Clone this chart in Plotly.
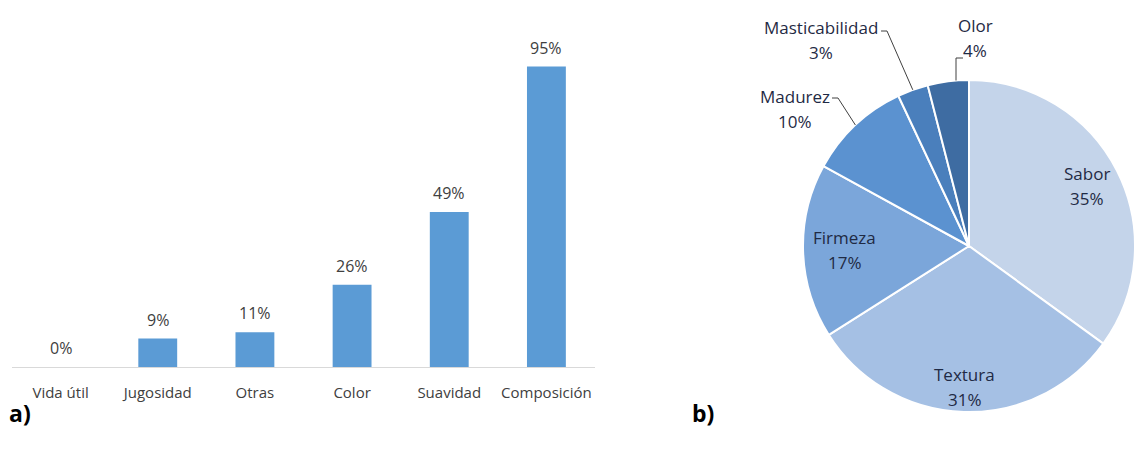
import math
import plotly.graph_objects as go

# Panel a) – attributes mentioned (%)
bar_categories = ["Vida útil", "Jugosidad", "Otras", "Color", "Suavidad", "Composición"]
bar_values = [0, 9, 11, 26, 49, 95]

# Panel b) – attribute shares (%)
pie_labels = ["Sabor", "Textura", "Firmeza", "Madurez", "Masticabilidad", "Olor"]
pie_values = [35, 31, 17, 10, 3, 4]
pie_colors = ["#c4d4ea", "#a5c0e4", "#7ba6da", "#5b92d0", "#4a7fbc", "#3e6ca2"]

W, H = 1135, 456
FONT = "Open Sans"
TEXT_GREY = "#404040"
PIE_TEXT = "#1f2a44"

# pie geometry (pixels)
cx, cy, r = 969, 246, 166
# radial position of the labels drawn inside the three large slices
inside_label_radius = [0.80, 0.85, 0.75]
LINE_GAP = 25  # distance between the name line and the percentage line


def px(x):
    return x / W


def py(y):
    return 1 - y / H


fig = go.Figure()

fig.add_trace(go.Bar(
    x=bar_categories, y=bar_values,
    marker=dict(color="#5b9bd5", line=dict(width=0)),
    hoverinfo="skip", showlegend=False,
))

# value labels above each bar
for c, v in zip(bar_categories, bar_values):
    fig.add_annotation(x=c, y=v, xref="x", yref="y", text=f"{v}%",
                       showarrow=False, xanchor="center", yanchor="bottom", yshift=6,
                       font=dict(family=FONT, size=16, color=TEXT_GREY))

fig.add_trace(go.Pie(
    labels=pie_labels, values=pie_values, sort=False, direction="clockwise",
    rotation=0, textinfo="none", hoverinfo="skip", showlegend=False,
    marker=dict(colors=pie_colors, line=dict(color="white", width=2)),
    domain=dict(x=[px(cx - r), px(cx + r)], y=[py(cy + r), py(cy - r)]),
))

# slice mid-angles (degrees clockwise from 12 o'clock)
total = sum(pie_values)
mids = []
acc = 0
for v in pie_values:
    mids.append((acc + v / 2) / total * 360)
    acc += v


def polar(angle_deg, radius):
    a = math.radians(angle_deg)
    return cx + radius * math.sin(a), cy - radius * math.cos(a)


pie_font = dict(family=FONT, size=17, color=PIE_TEXT)


def pie_label(x, y, name, value):
    """Two-line slice label centred on (x, y) in pixels."""
    for text, dy in ((name, -LINE_GAP / 2), (f"{value}%", LINE_GAP / 2)):
        fig.add_annotation(x=px(x), y=py(y + dy), xref="paper", yref="paper",
                           xanchor="center", yanchor="middle",
                           text=text, showarrow=False, font=pie_font)


# labels inside the large slices
for lab, v, m, f in zip(pie_labels[:3], pie_values[:3], mids[:3], inside_label_radius):
    x, y = polar(m, f * r)
    pie_label(x, y, lab, v)

# callouts for the small slices: label centre, leader elbow and leader end (pixels)
callouts = {
    "Madurez": dict(text=(795, 109), elbow=(838, 98), end=(832, 98), vertical=False),
    "Masticabilidad": dict(text=(821, 40), elbow=(887, 31), end=(881, 31), vertical=False),
    "Olor": dict(text=(975, 38), elbow=(956, 58), end=(963, 58), vertical=True),
}
for lab, v, m in zip(pie_labels, pie_values, mids):
    if lab not in callouts:
        continue
    c = callouts[lab]
    ax_, ay_ = c["elbow"]
    bx, by = c["end"]
    if c["vertical"]:
        # leader drops straight down onto the rim
        ex = ax_
        ey = cy - math.sqrt(r ** 2 - (ax_ - cx) ** 2)
    else:
        ex, ey = polar(m, r)
    fig.add_shape(type="path", xref="paper", yref="paper",
                  path=f"M {px(ex)} {py(ey)} L {px(ax_)} {py(ay_)} L {px(bx)} {py(by)}",
                  line=dict(color="#404040", width=1))
    tx, ty = c["text"]
    pie_label(tx, ty, lab, v)

# panel tags
for tag, x in (("a)", 7), ("b)", 690)):
    fig.add_annotation(x=px(x), y=py(413), xref="paper", yref="paper",
                       text=f"<b>{tag}</b>", showarrow=False,
                       xanchor="left", yanchor="middle",
                       font=dict(family=FONT, size=23, color="#000000"))

fig.update_layout(
    width=W, height=H,
    margin=dict(l=0, r=0, t=0, b=0),
    paper_bgcolor="white", plot_bgcolor="white",
    bargap=0.6,
    xaxis=dict(domain=[px(12), px(595)], showline=True, linecolor="#d9d9d9",
               linewidth=1, ticks="", showgrid=False, ticklabelstandoff=12,
               tickfont=dict(family=FONT, size=15, color=TEXT_GREY)),
    yaxis=dict(domain=[py(367), py(35)], range=[0, 105], visible=False,
               showgrid=False),
)

fig.write_html("out.html")
